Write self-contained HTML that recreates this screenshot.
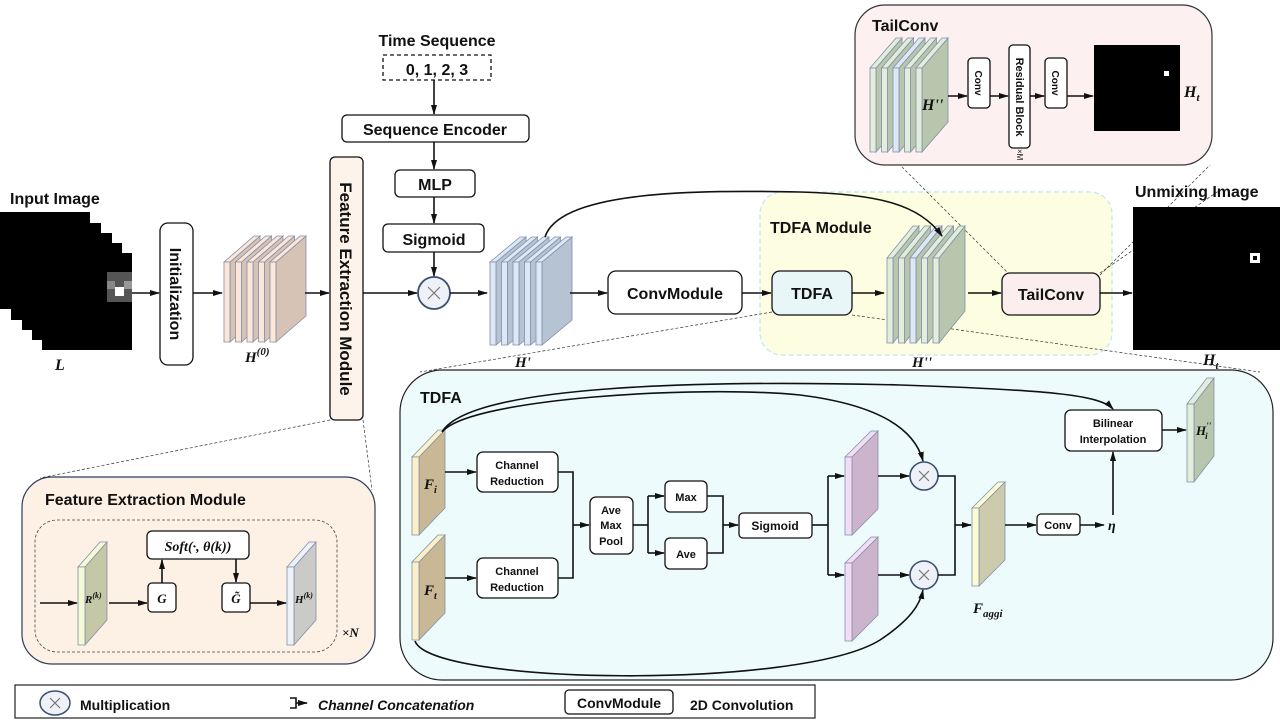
<!DOCTYPE html>
<html><head><meta charset="utf-8"><style>
html,body{margin:0;padding:0;background:#fff}
svg{display:block}
text{font-family:"Liberation Sans",sans-serif;fill:#111}
.b{font-weight:bold}
.m{font-family:"Liberation Serif",serif;font-style:italic;font-weight:bold}
</style></head><body>
<svg id="s" width="1280" height="720" viewBox="0 0 1280 720" xmlns="http://www.w3.org/2000/svg">
<defs>
<marker id="a" markerWidth="10" markerHeight="8" refX="9" refY="4" orient="auto" markerUnits="userSpaceOnUse"><path d="M0,1 L10,4 L0,7 z" fill="#111"/></marker>
</defs>
<g stroke="#111" stroke-width="1.2" fill="none">
<!-- panels -->
<rect x="855" y="5" width="357" height="160" rx="30" fill="#fcf0f0" stroke="#333"/>
<rect x="760" y="192" width="352" height="163" rx="22" fill="#fdfde2" stroke="#bfe8ef" stroke-dasharray="5,3"/>
<rect x="400" y="370" width="873" height="310" rx="42" fill="#eefbfc" stroke="#222"/>
<rect x="22" y="477" width="353" height="187" rx="30" fill="#fdf1e6" stroke="#2c3e60"/>
<rect x="35" y="520" width="302" height="132" rx="22" stroke="#444" stroke-dasharray="3,2" stroke-width="0.8"/>
<rect x="15" y="685" width="800" height="33" stroke="#222"/>
<!-- dotted connector lines -->
<g stroke="#333" stroke-width="0.7" stroke-dasharray="3,2">
<line x1="330" y1="420" x2="40" y2="478"/><line x1="363" y1="420" x2="372" y2="490"/>
<line x1="772" y1="312" x2="420" y2="372"/><line x1="852" y1="315" x2="1260" y2="372"/>
<line x1="1010" y1="275" x2="900" y2="165"/><line x1="1100" y1="275" x2="1210" y2="165"/>
<line x1="1100" y1="273" x2="1220" y2="190"/>
</g>
</g>
<g id="g"></g>
<g stroke="#111" stroke-width="1.3" fill="#fff">
<!-- input image -->
<rect x="0" y="212" width="90" height="97" fill="#000" stroke="none"/>
<rect x="11" y="223" width="90" height="97" fill="#000" stroke="none"/>
<rect x="22" y="233" width="90" height="97" fill="#000" stroke="none"/>
<rect x="32" y="243" width="90" height="97" fill="#000" stroke="none"/>
<rect x="42" y="253" width="90" height="97" fill="#000" stroke="none"/>
<rect x="107" y="272" width="25" height="30" fill="#555" stroke="none"/>
<rect x="115" y="287" width="9" height="9" fill="#fff" stroke="none"/>
<rect x="107" y="281" width="8" height="8" fill="#888" stroke="none"/>
<rect x="124" y="281" width="8" height="8" fill="#999" stroke="none"/>
<rect x="160" y="223" width="33" height="142" rx="8"/>
<rect x="330" y="157" width="33" height="263" rx="5" fill="#fdf3ea"/>
<rect x="383" y="55" width="108" height="25" fill="none" stroke-dasharray="4,3"/>
<rect x="342" y="115" width="187" height="27" rx="5"/>
<rect x="395" y="170" width="80" height="27" rx="5"/>
<rect x="383" y="224" width="101" height="28" rx="5"/>
<circle cx="434" cy="293" r="16" fill="#eef2f8" stroke="#3c5070" stroke-width="1.8"/>
<rect x="608" y="271" width="134" height="43" rx="8"/>
<rect x="772" y="271" width="80" height="44" rx="8" fill="#e8f6f8"/>
<rect x="1002" y="273" width="98" height="42" rx="8" fill="#fbeeee"/>
<rect x="1133" y="207" width="147" height="143" fill="#000" stroke="none"/>
<rect x="1250" y="253" width="10" height="10" fill="#fff" stroke="none"/>
<rect x="1253" y="256" width="4" height="4" fill="#000" stroke="none"/>
<!-- tailconv -->
<rect x="968" y="58" width="22" height="50" rx="4"/>
<rect x="1009" y="45" width="21" height="103" rx="4"/>
<rect x="1045" y="58" width="22" height="50" rx="4"/>
<rect x="1094" y="45" width="86" height="86" fill="#000" stroke="none"/>
<rect x="1164" y="71" width="5" height="5" fill="#fff" stroke="none"/>
<!-- tdfa -->
<rect x="477" y="452" width="81" height="40" rx="6"/>
<rect x="477" y="558" width="81" height="40" rx="6"/>
<rect x="590" y="497" width="43" height="57" rx="6"/>
<rect x="665" y="481" width="42" height="31" rx="5"/>
<rect x="665" y="538" width="42" height="31" rx="5"/>
<rect x="739" y="513" width="73" height="25" rx="4"/>
<circle cx="924" cy="476" r="14" fill="#eef2f8" stroke="#3c5070" stroke-width="1.6"/>
<circle cx="924" cy="575" r="14" fill="#eef2f8" stroke="#3c5070" stroke-width="1.6"/>
<rect x="1037" y="514" width="43" height="21" rx="4"/>
<rect x="1065" y="410" width="97" height="41" rx="6"/>
<!-- fem -->
<rect x="147" y="531" width="102" height="28" rx="5"/>
<rect x="148" y="583" width="28" height="29" rx="4"/>
<rect x="222" y="583" width="28" height="29" rx="4"/>
<!-- legend -->
<ellipse cx="55" cy="703" rx="15" ry="12" fill="#eef2f8" stroke="#3c5070" stroke-width="1.5"/>
<rect x="565" y="690" width="108" height="24" rx="4"/>
</g>
<g stroke="#777" stroke-width="1.2">
<path d="M428,287 l12,12 M440,287 l-12,12"/>
<path d="M919,471 l10,10 M929,471 l-10,10"/><path d="M919,570 l10,10 M929,570 l-10,10"/>
<path d="M50,698 l10,10 M60,698 l-10,10"/>
</g>
<g stroke="#111" stroke-width="1.6" fill="none" marker-end="url(#a)">
<line x1="132" y1="293" x2="159" y2="293"/><line x1="193" y1="293" x2="222" y2="293"/>
<line x1="305" y1="293" x2="329" y2="293"/><line x1="363" y1="293" x2="417" y2="293"/>
<line x1="434" y1="80" x2="434" y2="114"/><line x1="434" y1="142" x2="434" y2="169"/>
<line x1="434" y1="197" x2="434" y2="223"/><line x1="434" y1="252" x2="434" y2="276"/>
<line x1="450" y1="293" x2="487" y2="293"/><line x1="570" y1="293" x2="607" y2="293"/>
<line x1="742" y1="293" x2="771" y2="293"/><line x1="852" y1="293" x2="884" y2="293"/>
<line x1="968" y1="293" x2="1001" y2="293"/><line x1="1100" y1="293" x2="1132" y2="293"/>
<path d="M545,237 C560,190 700,190 800,192 C880,194 920,205 942,236"/>
<line x1="948" y1="96" x2="967" y2="96"/><line x1="990" y1="96" x2="1008" y2="96"/>
<line x1="1030" y1="96" x2="1044" y2="96"/><line x1="1067" y1="96" x2="1093" y2="96"/>
<line x1="445" y1="472" x2="476" y2="472"/><line x1="445" y1="578" x2="476" y2="578"/>
<path d="M558,472 H573 V578 H558" marker-end="none"/><line x1="573" y1="525" x2="589" y2="525"/>
<path d="M633,525 H648" marker-end="none"/><path d="M648,496 V553" marker-end="none"/>
<line x1="648" y1="496" x2="664" y2="496"/><line x1="648" y1="553" x2="664" y2="553"/>
<path d="M707,496 H723 V553 H707" marker-end="none"/><line x1="723" y1="525" x2="738" y2="525"/>
<path d="M812,525 H828" marker-end="none"/><path d="M828,476 V575" marker-end="none"/>
<line x1="828" y1="476" x2="844" y2="476"/><line x1="828" y1="575" x2="844" y2="575"/>
<line x1="878" y1="476" x2="909" y2="476"/><line x1="878" y1="575" x2="909" y2="575"/>
<path d="M938,476 H955 V575 H938" marker-end="none"/><line x1="955" y1="525" x2="971" y2="525"/>
<line x1="1005" y1="525" x2="1036" y2="525"/><line x1="1080" y1="525" x2="1104" y2="525"/>
<line x1="1113" y1="515" x2="1113" y2="452"/><line x1="1162" y1="430" x2="1186" y2="430"/>
<path d="M442,432 C470,385 700,380 900,385 C1050,390 1100,395 1113,409"/>
<path d="M442,432 C470,398 700,385 800,395 C880,405 915,430 923,461"/>
<path d="M415,641 C430,685 800,690 880,640 C910,620 920,605 923,590"/>
<line x1="40" y1="603" x2="77" y2="603"/><line x1="109" y1="603" x2="147" y2="603"/>
<line x1="162" y1="583" x2="162" y2="560"/><line x1="236" y1="559" x2="236" y2="582"/>
<line x1="250" y1="603" x2="286" y2="603"/>
<path d="M290,698 H296 V708 H290" marker-end="none"/><line x1="296" y1="703" x2="307" y2="703"/>
</g>
<!-- text -->
<text x="10" y="204" class="b" font-size="16">Input Image</text>
<text x="55" y="370" class="m" font-size="16">L</text>
<text transform="translate(170,294) rotate(90)" class="b" font-size="16" text-anchor="middle">Initialization</text>
<text x="245" y="362" class="m" font-size="15">H<tspan font-size="11" dy="-7">(0)</tspan></text>
<text transform="translate(340,289) rotate(90)" class="b" font-size="17" text-anchor="middle">Feature Extraction Module</text>
<text x="437" y="46" class="b" font-size="16" text-anchor="middle">Time Sequence</text>
<text x="437" y="75" class="b" font-size="16" text-anchor="middle" font-family="Liberation Mono">0, 1, 2, 3</text>
<text x="435" y="135" class="b" font-size="16" text-anchor="middle">Sequence Encoder</text>
<text x="435" y="190" class="b" font-size="16" text-anchor="middle">MLP</text>
<text x="434" y="245" class="b" font-size="16" text-anchor="middle">Sigmoid</text>
<text x="515" y="367" class="m" font-size="15">H'</text>
<text x="675" y="299" class="b" font-size="16" text-anchor="middle">ConvModule</text>
<text x="770" y="233" class="b" font-size="16">TDFA Module</text>
<text x="812" y="299" class="b" font-size="16" text-anchor="middle">TDFA</text>
<text x="912" y="367" class="m" font-size="15">H''</text>
<text x="1051" y="300" class="b" font-size="16" text-anchor="middle">TailConv</text>
<text x="1135" y="197" class="b" font-size="16">Unmixing Image</text>
<text x="1203" y="365" class="m" font-size="16">H<tspan font-size="11" dy="4">t</tspan></text>
<text x="872" y="31" class="b" font-size="16">TailConv</text>
<text x="922" y="110" class="m" font-size="16">H''</text>
<text transform="translate(975,83) rotate(90)" font-size="10" text-anchor="middle" class="b">Conv</text>
<text transform="translate(1016,97) rotate(90)" font-size="11" text-anchor="middle" class="b">Residual Block</text>
<text transform="translate(1017,149) rotate(90)" font-size="8">×M</text>
<text transform="translate(1052,83) rotate(90)" font-size="10" text-anchor="middle" class="b">Conv</text>
<text x="1184" y="97" class="m" font-size="16">H<tspan font-size="11" dy="4">t</tspan></text>
<text x="420" y="403" class="b" font-size="16">TDFA</text>
<text x="424" y="489" class="m" font-size="15">F<tspan font-size="10" dy="4">i</tspan></text>
<text x="424" y="595" class="m" font-size="15">F<tspan font-size="10" dy="4">t</tspan></text>
<text x="517" y="469" class="b" font-size="11" text-anchor="middle">Channel</text>
<text x="517" y="485" class="b" font-size="11" text-anchor="middle">Reduction</text>
<text x="517" y="575" class="b" font-size="11" text-anchor="middle">Channel</text>
<text x="517" y="591" class="b" font-size="11" text-anchor="middle">Reduction</text>
<text x="611" y="514" class="b" font-size="11" text-anchor="middle">Ave</text>
<text x="611" y="529" class="b" font-size="11" text-anchor="middle">Max</text>
<text x="611" y="545" class="b" font-size="11" text-anchor="middle">Pool</text>
<text x="686" y="501" class="b" font-size="11" text-anchor="middle">Max</text>
<text x="686" y="558" class="b" font-size="11" text-anchor="middle">Ave</text>
<text x="775" y="530" class="b" font-size="12" text-anchor="middle">Sigmoid</text>
<text x="973" y="613" class="m" font-size="15">F<tspan font-size="11" dy="4">aggi</tspan></text>
<text x="1058" y="529" class="b" font-size="11" text-anchor="middle">Conv</text>
<text x="1108" y="530" class="m" font-size="14">η</text>
<text x="1113" y="427" class="b" font-size="11" text-anchor="middle">Bilinear</text>
<text x="1113" y="443" class="b" font-size="11" text-anchor="middle">Interpolation</text>
<text x="1196" y="435" class="m" font-size="13">H<tspan font-size="9" dy="-6">''</tspan><tspan font-size="9" dx="-6" dy="10">i</tspan></text>
<text x="45" y="505" class="b" font-size="16">Feature Extraction Module</text>
<text x="198" y="551" class="m" font-size="14" text-anchor="middle">Soft(·, θ(k))</text>
<text x="162" y="603" class="m" font-size="13" text-anchor="middle">G</text>
<text x="236" y="603" class="m" font-size="13" text-anchor="middle">G̃</text>
<text x="85" y="603" class="m" font-size="11">R<tspan font-size="8" dy="-5">(k)</tspan></text>
<text x="295" y="603" class="m" font-size="11">H<tspan font-size="8" dy="-5">(k)</tspan></text>
<text x="342" y="637" class="m" font-size="13">×N</text>
<text x="80" y="710" class="b" font-size="14">Multiplication</text>
<text x="318" y="710" class="b" font-size="14" font-style="italic">Channel Concatenation</text>
<text x="619" y="708" class="b" font-size="14" text-anchor="middle">ConvModule</text>
<text x="690" y="710" class="b" font-size="14">2D Convolution</text>
</svg>
<script>
var g=document.getElementById('g'),NS="http://www.w3.org/2000/svg";
function slab(x,y,w,h,dx,dy,f,s){
 var p=function(pts,c){var e=document.createElementNS(NS,'polygon');e.setAttribute('points',pts);e.setAttribute('fill',c);e.setAttribute('stroke','#8090a8');e.setAttribute('stroke-width','0.8');g.appendChild(e);};
 p((x+w)+','+y+' '+(x+w+dx)+','+(y-dy)+' '+(x+w+dx)+','+(y+h-dy)+' '+(x+w)+','+(y+h),s);
 p(x+','+y+' '+(x+dx)+','+(y-dy)+' '+(x+w+dx)+','+(y-dy)+' '+(x+w)+','+y,f);
 p(x+','+y+' '+(x+w)+','+y+' '+(x+w)+','+(y+h)+' '+x+','+(y+h),f);
}
function stack(x0,y,n,step,w,h,dx,dy,fs,ss){for(var i=0;i<n;i++)slab(x0+i*step,y,w,h,dx,dy,fs[i%fs.length],ss[i%ss.length]);}
stack(224,262,5,11.5,6,80,30,26,['#fbe6d8'],['#d7c3b5']);
stack(490,262,5,11.5,6,83,30,25,['#dce8f5'],['#b6c3d2']);
stack(887,258,5,11.5,6,85,26,32,['#e2eedb','#e2eedb','#dce8f5','#e2eedb','#e2eedb'],['#b8c6ae']);
stack(870,68,5,11.5,6,84,26,30,['#e2eedb','#e2eedb','#dce8f5','#e2eedb','#e2eedb'],['#b8c6ae']);
slab(412,457,7,78,26,27,'#fdf0c8','#c8b896');
slab(412,562,7,78,26,27,'#fdf0c8','#c8b896');
slab(845,457,7,78,26,26,'#f5dcf5','#ccb4cc');
slab(845,563,7,78,26,26,'#f5dcf5','#ccb4cc');
slab(972,508,7,78,26,26,'#fdfbd2','#cdcbae');
slab(1187,404,7,78,20,26,'#e2eedb','#b8c6ae');
slab(78,567,7,78,22,25,'#f5f9d8','#c4c8a6');
slab(287,567,7,78,22,25,'#eef2f8','#cacac6');
</script>
</body></html>
